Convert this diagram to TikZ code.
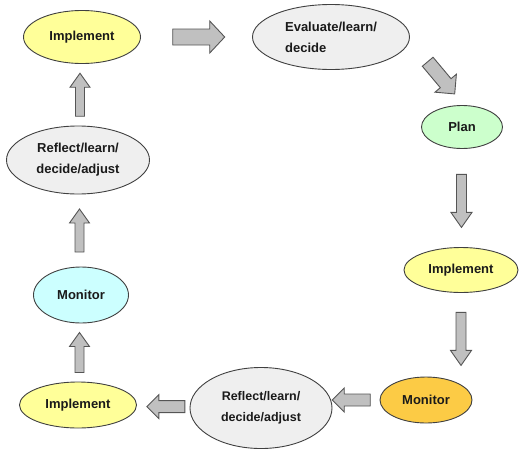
\documentclass[tikz,border=0pt]{standalone}
\usepackage{fontspec}
\setmainfont{Liberation Sans}
\usetikzlibrary{shapes.geometric,calc}
\definecolor{yfill}{HTML}{FFFF99}
\definecolor{gfill}{HTML}{CCFFCC}
\definecolor{cfill}{HTML}{CCFFFF}
\definecolor{ofill}{HTML}{FCCB45}
\definecolor{grfill}{HTML}{EFEFEF}
\definecolor{edge}{HTML}{404040}
\definecolor{afill}{HTML}{C0C0C0}
\definecolor{aedge}{HTML}{555555}
\definecolor{txt}{HTML}{1A1A1A}
\tikzset{
  oval/.style={ellipse, draw=edge, line width=0.9pt, inner sep=0pt, text=txt,
    font=\fontsize{13}{21}\selectfont\bfseries, align=center},
  blockarr/.style={fill=afill, draw=aedge, line width=0.9pt, line join=miter},
}
% #1 position, #2 angle, #3 length, #4 shaft width, #5 head width, #6 head length
\newcommand\barrowdraw[6]{%
  \begin{scope}[shift={#1}, rotate=#2]
    \draw[blockarr] (-#3/2,-#4/2) -- (#3/2-#6,-#4/2) -- (#3/2-#6,-#5/2) -- (#3/2,0)
      -- (#3/2-#6,#5/2) -- (#3/2-#6,#4/2) -- (-#3/2,#4/2) -- cycle;
  \end{scope}}
\begin{document}
\begin{tikzpicture}[x=1pt,y=-1pt]
\path[use as bounding box] (0,0) rectangle (519,450);
\node[oval, fill=yfill, minimum width=117pt, minimum height=53pt] (impl1) at (82,37) {Implement};
\node[oval, fill=grfill, minimum width=157pt, minimum height=65pt, align=left] (eval) at (331,37) {Evaluate/learn/\\decide};
\node[oval, fill=gfill, minimum width=81pt, minimum height=43pt] (plan) at (462,127) {Plan};
\node[oval, fill=yfill, minimum width=114pt, minimum height=45pt] (impl2) at (461,270) {Implement};
\node[oval, fill=ofill, minimum width=92pt, minimum height=46pt] (mon2) at (426,400) {Monitor};
\node[oval, fill=grfill, minimum width=142pt, minimum height=81pt, font=\fontsize{12.5}{21}\selectfont\bfseries] (refl2) at (261,408) {Reflect/learn/\\decide/adjust};
\node[oval, fill=yfill, minimum width=117pt, minimum height=46pt] (impl3) at (78,405) {Implement};
\node[oval, fill=cfill, minimum width=95pt, minimum height=56pt] (mon1) at (81,295) {Monitor};
\node[oval, fill=grfill, minimum width=143pt, minimum height=68pt] (refl1) at (78,160) {Reflect/learn/\\decide/adjust};
% connectors (block arrows)
\barrowdraw{($(impl1.east)!0.52!(eval.west)$)}{0}{52}{16}{32}{15}
\barrowdraw{($(eval.east)!0.6!(plan.north)$)}{-50}{42}{14}{28}{14}
\barrowdraw{($(plan.south)!0.53!(impl2.north)$)}{-90}{53}{10}{21}{15}
\barrowdraw{($(impl2.south)!0.55!(impl2.south|-mon2.north)$)}{-90}{53}{10}{21}{15}
\barrowdraw{($(mon2.west)!0.6!(refl2.east|-mon2.west)$)}{180}{38}{12}{24}{12}
\barrowdraw{($(refl2.west)!0.45!(impl3.east)$)}{180}{38}{12}{24}{12}
\barrowdraw{($(impl3.north)!0.5!(mon1.south)$)}{90}{40}{9}{20}{14}
\barrowdraw{($(mon1.north)!0.5!(refl1.south)$)}{90}{43}{9}{20}{14}
\barrowdraw{($(refl1.north)!0.5!(impl1.south)$)}{90}{43}{9}{20}{14}
\end{tikzpicture}
\end{document}
